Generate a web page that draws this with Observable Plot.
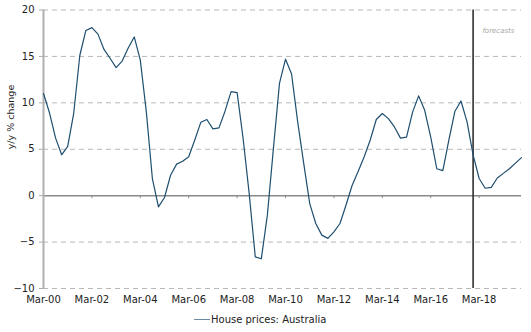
<!DOCTYPE html>
<html>
<head>
<meta charset="utf-8">
<script src="https://cdn.jsdelivr.net/npm/d3@7"></script>
<script src="https://cdn.jsdelivr.net/npm/@observablehq/plot@0.6"></script>
<style>
  html, body { margin: 0; padding: 0; background: #fff; }
  #wrap { position: relative; width: 531px; height: 332px; font-family: "DejaVu Sans", Verdana, sans-serif; }
  #legend { position: absolute; left: 194px; top: 311px; height: 16px; display: flex; align-items: center; font-size: 10px; color: #222; }
  #legend .sw { width: 16px; height: 0; border-top: 1.5px solid #6d8ca4; margin-right: 1px; }
</style>
</head>
<body>
<div id="wrap"></div>
<script>
// Quarterly, Mar-00 .. Dec-19, y/y % change
const seriesName = "House prices: Australia";
const values = [
  11.0, 8.9, 6.2, 4.4,      // 2000
  5.3, 8.9, 15.1, 17.8,     // 2001
  18.1, 17.4, 15.75, 14.8,  // 2002
  13.8, 14.5, 15.9, 17.1,   // 2003
  14.6, 9.0, 1.8, -1.2,     // 2004
  -0.2, 2.2, 3.4, 3.7,      // 2005
  4.2, 6.0, 7.9, 8.2,       // 2006
  7.2, 7.3, 9.1, 11.2,      // 2007
  11.1, 6.1, 0.2, -6.6,     // 2008
  -6.8, -2.1, 5.1, 12.1,    // 2009
  14.7, 13.1, 8.0, 3.5,     // 2010
  -0.85, -3.0, -4.25, -4.6, // 2011
  -3.9, -3.0, -1.0, 1.1,    // 2012
  2.6, 4.2, 6.0, 8.2,       // 2013
  8.85, 8.3, 7.4, 6.2,      // 2014
  6.3, 9.0, 10.75, 9.2,     // 2015
  6.3, 2.9, 2.7, 6.0,       // 2016
  9.1, 10.2, 7.95, 4.4,     // 2017
  1.85, 0.8, 0.9, 1.9,      // 2018
  2.4, 2.9, 3.5, 4.1        // 2019
];
const startYear = 2000;
const monthNames = ["Mar", "Jun", "Sep", "Dec"];
const quarters = values.map((_, i) => monthNames[i % 4] + "-" + String((startYear + Math.floor(i / 4)) % 100).padStart(2, "0"));
const tickLabels = ["Mar-00","Mar-02","Mar-04","Mar-06","Mar-08","Mar-10","Mar-12","Mar-14","Mar-16","Mar-18"];
const yTicks = [-10, -5, 0, 5, 10, 15, 20];
const forecastStart = "Dec-17";
const forecastLabel = "forecasts";
const yLabel = "y/y % change";

const data = values.map((v, i) => ({i, q: quarters[i], v}));
const tickIdx = tickLabels.map(t => quarters.indexOf(t));
const forecastIdx = quarters.indexOf(forecastStart);
const xDomain = [0, values.length - 1];
const yDomain = [d3.min(yTicks), d3.max(yTicks)];
const tickLenUnits = 3 * (yDomain[1] - yDomain[0]) / (310 - 9.5 - 22);

const chart = Plot.plot({
  width: 531,
  height: 310,
  marginLeft: 43,
  marginRight: 10,
  marginTop: 9.5,
  marginBottom: 22,
  style: {fontFamily: "DejaVu Sans, Verdana, sans-serif", fontSize: "10px", color: "#222", background: "#fff"},
  x: {domain: xDomain},
  y: {domain: yDomain},
  marks: [
    Plot.gridY(yTicks.filter(d => d !== 0), {stroke: "#b8b8b8", strokeOpacity: 1, strokeDasharray: "5,4"}),
    Plot.ruleY([0], {stroke: "#8a8a8a", strokeWidth: 1.5}),
    Plot.ruleX(tickIdx, {y1: 0, y2: -tickLenUnits, stroke: "#8a8a8a"}),
    Plot.ruleX([xDomain[0]], {stroke: "#b0b0b0", strokeWidth: 2}),
    Plot.axisY(yTicks, {tickSize: 4, tickPadding: 5, stroke: "#aaa", fill: "#222", label: null, fontSize: 10}),
    Plot.axisX(tickIdx, {anchor: "bottom", tickSize: 0, tickPadding: 7, tickFormat: i => quarters[i], label: null, fontSize: 10, fill: "#222"}),
    Plot.text([yLabel], {frameAnchor: "left", dx: -33, rotate: -90, fontSize: 9.5, fill: "#222"}),
    Plot.ruleX([forecastIdx], {stroke: "#222", strokeWidth: 1.5}),
    Plot.text([forecastLabel], {frameAnchor: "top-right", dx: -7, dy: 18.5, textAnchor: "end", fontSize: 7, fontStyle: "italic", fill: "#a8a8a8"}),
    Plot.line(data, {x: "i", y: "v", stroke: "#1f4f70", strokeWidth: 1.2})
  ]
});
const wrap = document.getElementById("wrap");
wrap.appendChild(chart);
const legend = document.createElement("div");
legend.id = "legend";
legend.innerHTML = '<span class="sw"></span><span></span>';
legend.lastChild.textContent = seriesName;
wrap.appendChild(legend);
</script>
</body>
</html>
